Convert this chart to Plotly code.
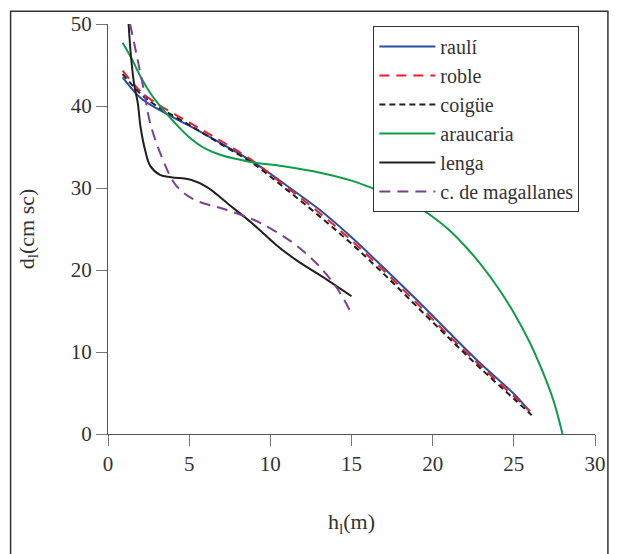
import plotly.graph_objects as go

# --- data ---
rauli_h = [0.9, 2, 3, 5, 7, 9, 11, 13, 15, 16.5, 19, 21, 23, 25, 25.9]
rauli_d = [43.5, 41.0, 39.7, 37.6, 35.4, 33.1, 30.3, 27.4, 24.0, 21.2, 16.4, 12.4, 8.5, 4.9, 2.9]

roble_h = [0.9, 2, 3, 5, 7, 9, 11, 13, 15, 17, 19, 21, 23, 25, 26]
roble_d = [44.3, 41.8, 40.3, 38.0, 35.7, 33.2, 30.1, 27.0, 23.6, 19.9, 16.0, 12.0, 8.2, 4.6, 2.8]

coigue_h = [0.9, 2, 3, 5, 7, 9, 11, 13, 15, 17, 19, 21, 23, 25, 26.1]
coigue_d = [43.9, 41.5, 40.0, 37.7, 35.3, 32.9, 29.8, 26.6, 23.2, 19.5, 15.6, 11.7, 7.9, 4.3, 2.3]

arau_h = [0.9, 1.5, 2, 2.5, 3, 4, 5, 6, 7, 8, 9, 11, 13, 15, 16, 17, 18, 19, 20, 21, 22, 23, 24, 25, 26, 26.5, 27, 27.5, 28.0]
arau_d = [47.7, 45.6, 43.6, 41.9, 40.5, 38.2, 36.2, 34.8, 34.0, 33.5, 33.1, 32.6, 31.9, 30.9, 30.2, 29.4, 28.7, 27.8, 26.5, 24.9, 22.9, 20.6, 17.9, 14.8, 11.1, 8.9, 6.5, 3.7, 0.0]

lenga_h = [1.27, 1.4, 1.6, 1.84, 2.0, 2.3, 2.6, 3.2, 3.9, 5.1, 6.1, 7.5, 9.0, 10.4, 11.6, 13.5, 15.0]
lenga_d = [50.0, 46.4, 42.8, 40.3, 37.5, 34.5, 32.7, 31.6, 31.3, 31.0, 30.1, 27.9, 25.5, 23.0, 21.2, 18.8, 16.8]

mag_h = [1.36, 1.84, 2.25, 2.6, 3.37, 4.2, 5.3, 7.2, 9.0, 10.4, 11.6, 12.9, 14.1, 15.0]
mag_d = [50.0, 45.5, 41.5, 37.9, 33.5, 30.3, 28.6, 27.4, 26.1, 24.6, 23.0, 20.7, 17.8, 14.7]

x_ticks = [0, 5, 10, 15, 20, 25, 30]
y_ticks = [0, 10, 20, 30, 40, 50]

series = [
    ("raulí", rauli_h, rauli_d, "#2a4ea3", "solid"),
    ("roble", roble_h, roble_d, "#e8202a", "10px,7px"),
    ("coigüe", coigue_h, coigue_d, "#231f20", "6px,4px"),
    ("araucaria", arau_h, arau_d, "#0f9d48", "solid"),
    ("lenga", lenga_h, lenga_d, "#231f20", "solid"),
    ("c. de magallanes", mag_h, mag_d, "#7b3f98", "11px,7px"),
]

FONT = "Liberation Serif"

L, R, T, B = 108, 20, 20, 120
PW, PH = 618 - L - R, 554 - T - B

fig = go.Figure()
for name, xs, ys, col, dash in series:
    fig.add_trace(go.Scatter(
        x=xs, y=ys, mode="lines", name=name,
        line=dict(color=col, width=2, dash=dash, shape="spline", smoothing=1.0),
    ))

fig.update_layout(
    width=618, height=554,
    margin=dict(l=L, r=R, t=T, b=B),
    paper_bgcolor="white", plot_bgcolor="white",
    font=dict(family=FONT, color="#333", size=20),
    showlegend=True,
    legend=dict(
        x=(375 - L) / PW, y=(434 - 22) / PH, xanchor="left", yanchor="top",
        bordercolor="#333", borderwidth=1, bgcolor="white",
        font=dict(family=FONT, size=20, color="#333"),
        tracegroupgap=0, itemwidth=56,
    ),
    xaxis=dict(
        range=[0, 30], tickvals=x_ticks, ticks="outside", ticklen=11,
        tickcolor="#777", showline=True, linecolor="#555", linewidth=1,
        showgrid=False, zeroline=False, tickfont=dict(family=FONT, size=21),
        title=dict(text="h<sub>l</sub>(m)", font=dict(family=FONT, size=22), standoff=38),
    ),
    yaxis=dict(
        range=[0, 50], tickvals=y_ticks, ticks="outside", ticklen=11,
        tickcolor="#777", showline=True, linecolor="#555", linewidth=1,
        showgrid=False, zeroline=False, tickfont=dict(family=FONT, size=21),
        title=dict(text="d<sub>l</sub>(cm sc)", font=dict(family=FONT, size=22), standoff=30),
    ),
    shapes=[dict(
        type="rect", xref="paper", yref="paper",
        x0=(10 - L) / PW, x1=(611 - L) / PW,
        y0=(434 - 570) / PH, y1=(434 - 7) / PH,
        line=dict(color="#333", width=1.5), layer="below",
    )],
)

fig.write_html("out.html")
